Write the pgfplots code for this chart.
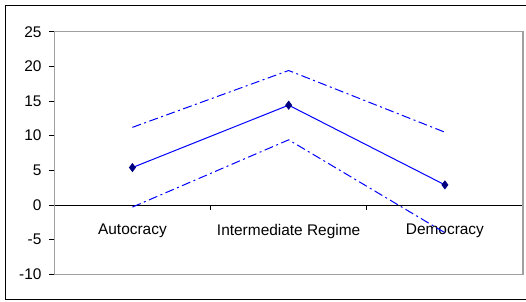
\documentclass[border=0pt]{standalone}
\usepackage{fontspec}
\setmainfont{Liberation Sans}
\usepackage{pgfplots}
\pgfplotsset{compat=1.18}
\definecolor{navyblue}{RGB}{0,0,128}
\definecolor{xlblue}{RGB}{0,0,255}
\definecolor{framegray}{RGB}{160,160,160}
\begin{document}
\fontsize{15.5}{18}\selectfont
\begin{tikzpicture}[x=1bp,y=1bp]
\useasboundingbox (0,0) rectangle (526,301);
\draw[black, line width=1.4bp] (5.5,1.3) rectangle (540,295.5);
\begin{axis}[
  at={(54.3bp,26.7bp)}, anchor=south west,
  scale only axis, width=468.7bp, height=242.6bp,
  xmin=-0.5, xmax=2.5, ymin=-10, ymax=25,
  axis x line=middle, axis y line=left,
  axis line style={-, black, line width=0.8bp},
  hide obscured x ticks=false, hide obscured y ticks=false,
  xtick={0.5,1.5,2.5}, xticklabels={},
  extra x ticks={0,1,2},
  extra x tick labels={Autocracy, Intermediate Regime, Democracy},
  extra x tick style={major tick length=0pt, tick label style={yshift=-14bp}},
  ytick={-10,-5,...,25},
  tick align=outside, major tick length=5bp,
  tick style={black, line width=0.8bp},
  /pgf/number format/assume math mode=true,
  yticklabel style={xshift=-2.5bp},
  clip=false,
]
\draw[framegray, line width=1.5bp] (rel axis cs:0,0) rectangle (rel axis cs:1,1);
\addplot[xlblue, line width=1bp, dash pattern=on 9bp off 3.5bp on 2bp off 3.5bp]
  coordinates {(0,11.2) (1,19.4) (2,10.5)};
\addplot[xlblue, line width=1bp, dash pattern=on 9bp off 3.5bp on 2bp off 3.5bp]
  coordinates {(0,-0.3) (1,9.4) (2,-4.0)};
\addplot[xlblue, line width=1bp, mark=diamond*, mark size=3.8bp,
  mark options={solid, fill=navyblue, draw=navyblue}]
  coordinates {(0,5.4) (1,14.4) (2,2.9)};
\end{axis}
\end{tikzpicture}
\end{document}
